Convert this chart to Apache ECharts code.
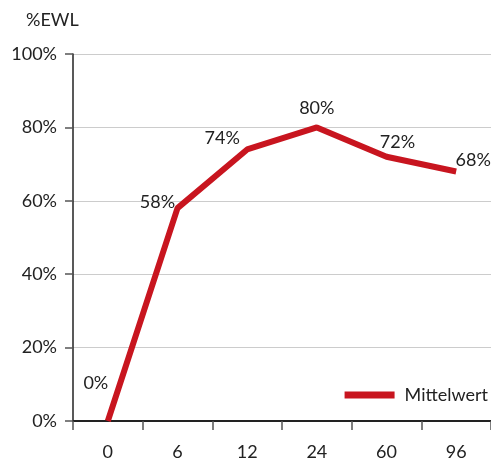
<!DOCTYPE html>
<html>
<head>
<meta charset="utf-8">
<script src="https://cdn.jsdelivr.net/npm/echarts@6/dist/echarts.min.js"></script>
<style>
  html, body { margin: 0; padding: 0; background: #fff; }
  #chart { width: 491px; height: 463px; }
</style>
</head>
<body>
<div id="chart"></div>
<script>
// Months after surgery and mean excess weight loss (%EWL)
const months = ['0', '6', '12', '24', '60', '96'];
const meanEWL = [0, 58, 74, 80, 72, 68];
const yTicks = [0, 20, 40, 60, 80, 100];
// label offsets (px) relative to each point
const labelOffsets = [[-12, -38], [-20, -6], [-25, -11], [0, -19], [11, -15], [17, -11]];

const FONT = 'Lato, "Noto Sans", sans-serif';
const RED = '#c8151f';

const chart = echarts.init(document.getElementById('chart'), null, { renderer: 'canvas' });

chart.setOption({
  animation: false,
  backgroundColor: '#fff',
  title: {
    text: '%EWL',
    left: 21, top: 6,
    textStyle: { fontFamily: FONT, fontSize: 18, fontWeight: 'normal', color: '#222' }
  },
  grid: { left: 73, right: -3, top: 54, bottom: 42 },
  legend: {
    right: -2, top: 381,
    icon: 'rect',
    itemWidth: 50, itemHeight: 7,
    textStyle: { fontFamily: FONT, fontSize: 18, color: '#222', padding: [0, 0, 0, 5] },
    data: ['Mittelwert']
  },
  xAxis: {
    type: 'category',
    data: months,
    boundaryGap: true,
    axisLine: { lineStyle: { color: '#222', width: 2 } },
    axisTick: { show: true, length: 9, lineStyle: { color: '#555', width: 1.5 } },
    axisLabel: { fontFamily: FONT, fontSize: 18, color: '#222', margin: 22 }
  },
  yAxis: {
    type: 'value',
    min: yTicks[0], max: yTicks[yTicks.length - 1], interval: 20,
    axisLine: { show: true, lineStyle: { color: '#222', width: 1.5 } },
    axisTick: { show: true, length: 8, lineStyle: { color: '#555', width: 1.5 } },
    axisLabel: { fontFamily: FONT, fontSize: 18, color: '#222', margin: 16, formatter: '{value}%' },
    splitLine: { show: true, lineStyle: { color: '#cccccc', width: 1 } }
  },
  series: [{
    name: 'Mittelwert',
    type: 'line',
    data: meanEWL.map((v, i) => ({
      value: v,
      label: { offset: labelOffsets[i] }
    })),
    color: RED,
    lineStyle: { color: RED, width: 6 },
    itemStyle: { color: RED },
    symbol: 'circle',
    symbolSize: 0.01,
    showSymbol: true,
    label: {
      show: true,
      position: 'inside',
      align: 'center',
      verticalAlign: 'middle',
      fontFamily: FONT,
      fontSize: 18,
      color: '#222',
      formatter: p => p.value + '%'
    }
  }]
});
</script>
</body>
</html>
